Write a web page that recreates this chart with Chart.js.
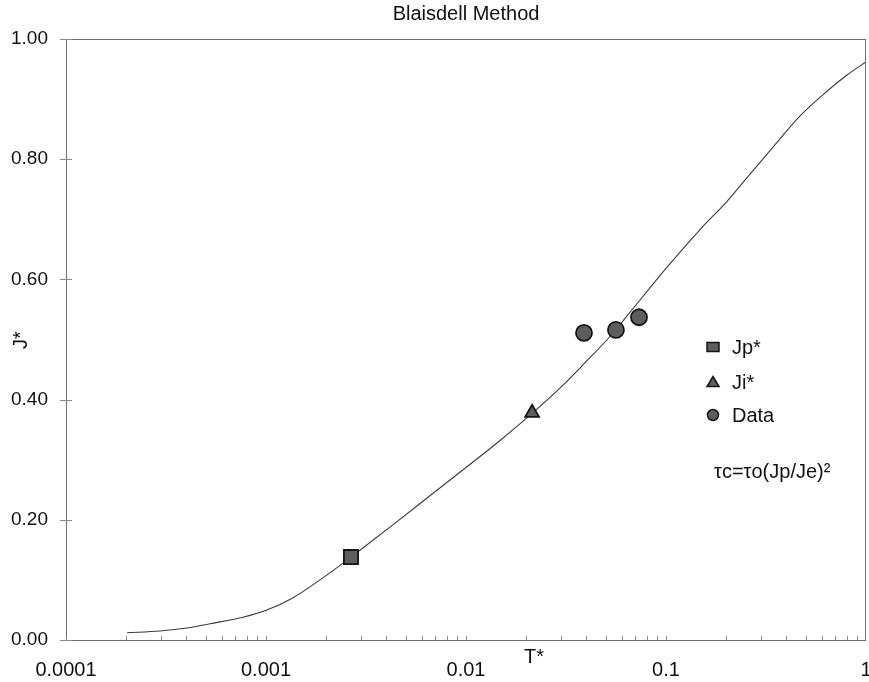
<!DOCTYPE html>
<html>
<head>
<meta charset="utf-8">
<script src="https://cdn.jsdelivr.net/npm/chart.js@4.4.1/dist/chart.umd.min.js"></script>
<style>
  html, body { margin: 0; padding: 0; background: #fff; }
  #wrap { width: 869px; height: 682px; }
</style>
</head>
<body>
<div id="wrap"><canvas id="chart"></canvas></div>
<script>
// values
const curveT = [0.000202, 0.000295, 0.000403, 0.000525, 0.000767, 0.00101, 0.00136, 0.00186,
                0.00243, 0.00266, 0.00305, 0.00452, 0.0066, 0.0100, 0.0148, 0.0214, 0.0295,
                0.0363, 0.0385, 0.0525, 0.0624, 0.085, 0.101, 0.148, 0.202, 0.263,
                0.359, 0.468, 0.638, 0.804, 1.0];
const curveJ = [0.012, 0.015, 0.020, 0.027, 0.038, 0.050, 0.070, 0.100,
                0.128, 0.138, 0.153, 0.197, 0.240, 0.287, 0.332, 0.377, 0.419,
                0.449, 0.458, 0.505, 0.535, 0.590, 0.620, 0.683, 0.730, 0.775,
                0.828, 0.872, 0.913, 0.940, 0.962];

const jpT = [0.00266];
const jpJ = [0.138];
const jiT = [0.0214];
const jiJ = [0.378];
const dataT = [0.0389, 0.0562, 0.0733];
const dataJ = [0.511, 0.516, 0.537];

const xTickValues = [0.0001, 0.001, 0.01, 0.1, 1];
const xTickLabels = ['0.0001', '0.001', '0.01', '0.1', '1'];
const yTickValues = [0, 0.2, 0.4, 0.6, 0.8, 1];

const legendLabels = ['Jp*', 'Ji*', 'Data'];
const formulaText = 'τc=τo(Jp/Je)²';

const FONT = "'Liberation Sans', Arial, sans-serif";
const TXT = '#111';
const MARK_FILL = '#5e5e5e';
const MARK_EDGE = '#151515';

function pts(xs, ys) {
    return xs.map((x, i) => ({ x: x, y: ys[i] }));
}

// frame, ticks, free texts and the in-plot legend
const decorPlugin = {
    id: 'decor',
    afterDraw(chart) {
        const ctx = chart.ctx;
        const a = chart.chartArea;
        const xs = chart.scales.x, ys = chart.scales.y;
        ctx.save();

        // frame round the plot
        ctx.strokeStyle = '#707070';
        ctx.lineWidth = 1;
        ctx.strokeRect(a.left + 0.5, a.top + 0.5, a.right - a.left - 1, a.bottom - a.top);

        // minor log ticks, pointing into the plot
        ctx.strokeStyle = '#8a8a8a';
        ctx.beginPath();
        for (let e = -4; e < 0; e++) {
            for (let m = 1; m <= 9; m++) {
                const px = Math.round(xs.getPixelForValue(m * Math.pow(10, e))) + 0.5;
                ctx.moveTo(px, a.bottom);
                ctx.lineTo(px, a.bottom - 4);
            }
        }
        // y ticks crossing the axis
        yTickValues.forEach(v => {
            const py = Math.round(ys.getPixelForValue(v)) + 0.5;
            ctx.moveTo(a.left - 6, py);
            ctx.lineTo(a.left + 6, py);
        });
        ctx.stroke();

        // texts
        ctx.fillStyle = TXT;
        ctx.font = '20px ' + FONT;
        ctx.textAlign = 'center';
        ctx.textBaseline = 'middle';
        ctx.fillText('Blaisdell Method', (a.left + a.right) / 2, 14);
        ctx.fillText('T*', 534, 657);

        ctx.save();
        ctx.translate(21, 340);
        ctx.rotate(-Math.PI / 2);
        ctx.fillText('J*', 0, 0);
        ctx.restore();

        ctx.textAlign = 'left';
        ctx.fillText(formulaText, 714, 472);

        // legend
        const rows = [347, 382, 415];
        const mx = 713;
        ctx.fillStyle = MARK_FILL;
        ctx.strokeStyle = MARK_EDGE;
        ctx.lineWidth = 1.5;
        // square
        ctx.beginPath();
        ctx.rect(mx - 6, rows[0] - 4.5, 12, 9);
        ctx.fill(); ctx.stroke();
        // triangle
        ctx.beginPath();
        ctx.moveTo(mx, rows[1] - 5.5);
        ctx.lineTo(mx + 6, rows[1] + 4.5);
        ctx.lineTo(mx - 6, rows[1] + 4.5);
        ctx.closePath();
        ctx.fill(); ctx.stroke();
        // circle
        ctx.beginPath();
        ctx.arc(mx, rows[2], 5.5, 0, Math.PI * 2);
        ctx.fill(); ctx.stroke();

        ctx.fillStyle = TXT;
        ctx.font = '20px ' + FONT;
        legendLabels.forEach((t, i) => ctx.fillText(t, 732, rows[i] + 1));

        ctx.restore();
    }
};

const ctx = document.getElementById('chart').getContext('2d');
new Chart(ctx, {
    type: 'scatter',
    data: {
        datasets: [
            {
                label: legendLabels[0],
                data: pts(jpT, jpJ),
                pointStyle: 'rect',
                pointRadius: 10,
                backgroundColor: MARK_FILL,
                borderColor: MARK_EDGE,
                borderWidth: 1.8
            },
            {
                label: legendLabels[1],
                data: pts(jiT, jiJ),
                pointStyle: 'triangle',
                pointRadius: 8,
                backgroundColor: MARK_FILL,
                borderColor: MARK_EDGE,
                borderWidth: 1.8
            },
            {
                label: legendLabels[2],
                data: pts(dataT, dataJ),
                pointStyle: 'circle',
                pointRadius: 8,
                backgroundColor: MARK_FILL,
                borderColor: MARK_EDGE,
                borderWidth: 1.8
            },
            {
                label: 'curve',
                data: pts(curveT, curveJ),
                showLine: true,
                pointRadius: 0,
                borderColor: '#3a3a3a',
                borderWidth: 1.1,
                cubicInterpolationMode: 'monotone'
            }
        ]
    },
    options: {
        responsive: true,
        maintainAspectRatio: false,
        animation: false,
        layout: { autoPadding: false, padding: { top: 39, right: 3, left: 0, bottom: 0 } },
        plugins: {
            legend: { display: false },
            tooltip: { enabled: false },
            title: { display: false }
        },
        scales: {
            x: {
                type: 'logarithmic',
                min: 0.0001,
                max: 1,
                afterBuildTicks: s => { s.ticks = xTickValues.map(v => ({ value: v })); },
                afterFit: s => { s.height = 42; s.paddingLeft = 0; s.paddingRight = 0; },
                grid: { display: false, drawTicks: false },
                border: { display: false },
                ticks: {
                    autoSkip: false,
                    maxRotation: 0,
                    padding: 18,
                    color: TXT,
                    font: { family: FONT, size: 20 },
                    callback: v => xTickLabels[xTickValues.indexOf(v)]
                }
            },
            y: {
                min: 0,
                max: 1,
                afterBuildTicks: s => { s.ticks = yTickValues.map(v => ({ value: v })); },
                afterFit: s => { s.width = 66; s.paddingTop = 0; s.paddingBottom = 0; },
                grid: { display: false, drawTicks: false },
                border: { display: false },
                ticks: {
                    padding: 18,
                    color: TXT,
                    font: { family: FONT, size: 19 },
                    callback: v => v.toFixed(2)
                }
            }
        }
    },
    plugins: [decorPlugin]
});
</script>
</body>
</html>
